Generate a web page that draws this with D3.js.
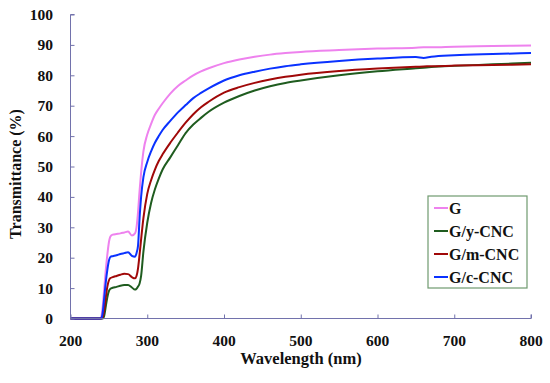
<!DOCTYPE html>
<html>
<head>
<meta charset="utf-8">
<script src="https://cdn.jsdelivr.net/npm/d3@7"></script>
<style>
  body { margin: 0; background: #fff; }
  text { font-family: "Liberation Serif", "DejaVu Serif", serif; font-weight: bold; fill: #111; }
</style>
</head>
<body>
<div id="chart"></div>
<script>
// wavelength (nm)
var waves = [200, 238, 240, 242, 244, 246, 248, 250, 252, 255, 260, 265, 270, 275, 280, 284, 286, 288, 290, 292, 295,
  300, 305, 310, 315, 320, 330, 340, 350, 360, 370, 380, 400, 420, 440, 460, 480, 500, 550, 600, 650, 660, 670, 700, 750, 800];

var seriesG = [0, 0, 0.5, 4, 10, 16, 21, 25, 27, 27.6, 27.8, 28, 28.3, 28.6, 27.3, 28, 30, 35, 42, 48, 55,
  60.5, 64, 67, 69, 70.8, 74, 76.5, 78.3, 80, 81.3, 82.3, 84, 85.2, 86.1, 86.8, 87.3, 87.7, 88.3, 88.8, 89.1, 89.2, 89.2, 89.4, 89.6, 89.8];
var seriesY = [0, 0, 0, 0, 1, 4, 7, 9, 9.8, 10.1, 10.4, 10.8, 11, 11, 10.2, 9.5, 9.8, 10.5, 11.5, 14, 22,
  31.5, 38, 42.5, 46, 49, 53, 57, 61, 63.8, 66, 68, 71, 73.2, 75, 76.4, 77.5, 78.3, 80, 81.3, 82.3, 82.5, 82.7, 83.1, 83.6, 84.1];
var seriesM = [0, 0, 0, 0.5, 3, 7, 10.5, 12.5, 13.3, 13.6, 14, 14.4, 14.7, 14.6, 13.6, 13.2, 14, 16.5, 21, 26, 33,
  41, 45.5, 49, 51.8, 54, 57.8, 61.2, 64.4, 67.2, 69.5, 71.3, 74.3, 76.1, 77.5, 78.6, 79.5, 80.2, 81.4, 82.2, 82.8, 82.9, 83, 83.2, 83.4, 83.6];
var seriesC = [0, 0, 0, 2, 7, 12, 16, 19, 20.3, 20.5, 20.8, 21.2, 21.5, 21.8, 20.6, 20.3, 21.5, 24, 33, 40, 46.5,
  51.5, 55, 57.8, 60, 62, 65, 67.8, 70.2, 72.5, 74.2, 75.7, 78.3, 80, 81.2, 82.2, 83, 83.6, 84.7, 85.5, 86, 85.7, 86.1, 86.6, 87, 87.3];

var names = ["G", "G/y-CNC", "G/m-CNC", "G/c-CNC"];
var colors = ["#ee82ee", "#1f5c1f", "#a00808", "#0a32ff"];
var xTicks = [200, 300, 400, 500, 600, 700, 800];
var yTicks = [0, 10, 20, 30, 40, 50, 60, 70, 80, 90, 100];

var width = 550, height = 383;
var svg = d3.select("#chart").append("svg")
    .attr("width", width)
    .attr("height", height);

var x = d3.scaleLinear().domain([200, 800]).range([70.5, 531]);
var y = d3.scaleLinear().domain([0, 100]).range([318.5, 14.5]);

var axisColor = "#7272ac";

// lines
var allSeries = [seriesG, seriesY, seriesM, seriesC];
var line = d3.line()
    .x(function(d) { return x(d[0]); })
    .y(function(d) { return y(d[1]); })
    .curve(d3.curveMonotoneX);

allSeries.forEach(function(s, i) {
  svg.append("path")
    .datum(waves.map(function(w, k) { return [w, s[k]]; }))
    .attr("fill", "none")
    .attr("stroke", colors[i])
    .attr("stroke-width", 2)
    .attr("d", line);
});

// y axis
var gy = svg.append("g").attr("transform", "translate(" + x(200) + ",0)")
    .call(d3.axisRight(y).tickValues(yTicks).tickSize(4).tickFormat(""));
gy.select(".domain").attr("stroke", axisColor).attr("d", "M4," + y(100) + "H0V" + y(0) + "H4");
gy.selectAll(".tick line").attr("stroke", axisColor);
yTicks.forEach(function(t) {
  svg.append("text")
    .attr("x", 53)
    .attr("y", y(t) + 5.5)
    .attr("text-anchor", "end")
    .attr("font-size", 15.5)
    .text(t);
});

// x axis
var gx = svg.append("g").attr("transform", "translate(0," + y(0) + ")")
    .call(d3.axisTop(x).tickValues(xTicks).tickSize(4).tickFormat(""));
gx.select(".domain").attr("stroke", axisColor).attr("d", "M" + x(200) + ",0H" + x(800) + "V-4");
gx.selectAll(".tick line").attr("stroke", axisColor);
xTicks.forEach(function(t) {
  svg.append("text")
    .attr("x", x(t))
    .attr("y", 346)
    .attr("text-anchor", "middle")
    .attr("font-size", 15.5)
    .text(t);
});

// axis titles
svg.append("text")
  .attr("x", 301)
  .attr("y", 364)
  .attr("text-anchor", "middle")
  .attr("font-size", 16.5)
  .text("Wavelength (nm)");

svg.append("text")
  .attr("transform", "translate(21,174) rotate(-90)")
  .attr("text-anchor", "middle")
  .attr("font-size", 16)
  .text("Transmittance (%)");

// legend
var legend = svg.append("g").attr("transform", "translate(428,196)");
legend.append("rect")
  .attr("width", 99)
  .attr("height", 92)
  .attr("fill", "#fff")
  .attr("stroke", "#6f9a6f")
  .attr("stroke-width", 1.2);
names.forEach(function(n, i) {
  var ly = 12 + i * 23;
  legend.append("line")
    .attr("x1", 6).attr("x2", 20)
    .attr("y1", ly).attr("y2", ly)
    .attr("stroke", colors[i])
    .attr("stroke-width", 2);
  legend.append("text")
    .attr("x", 21)
    .attr("y", ly + 5.5)
    .attr("font-size", 16)
    .text(n);
});
</script>
</body>
</html>
